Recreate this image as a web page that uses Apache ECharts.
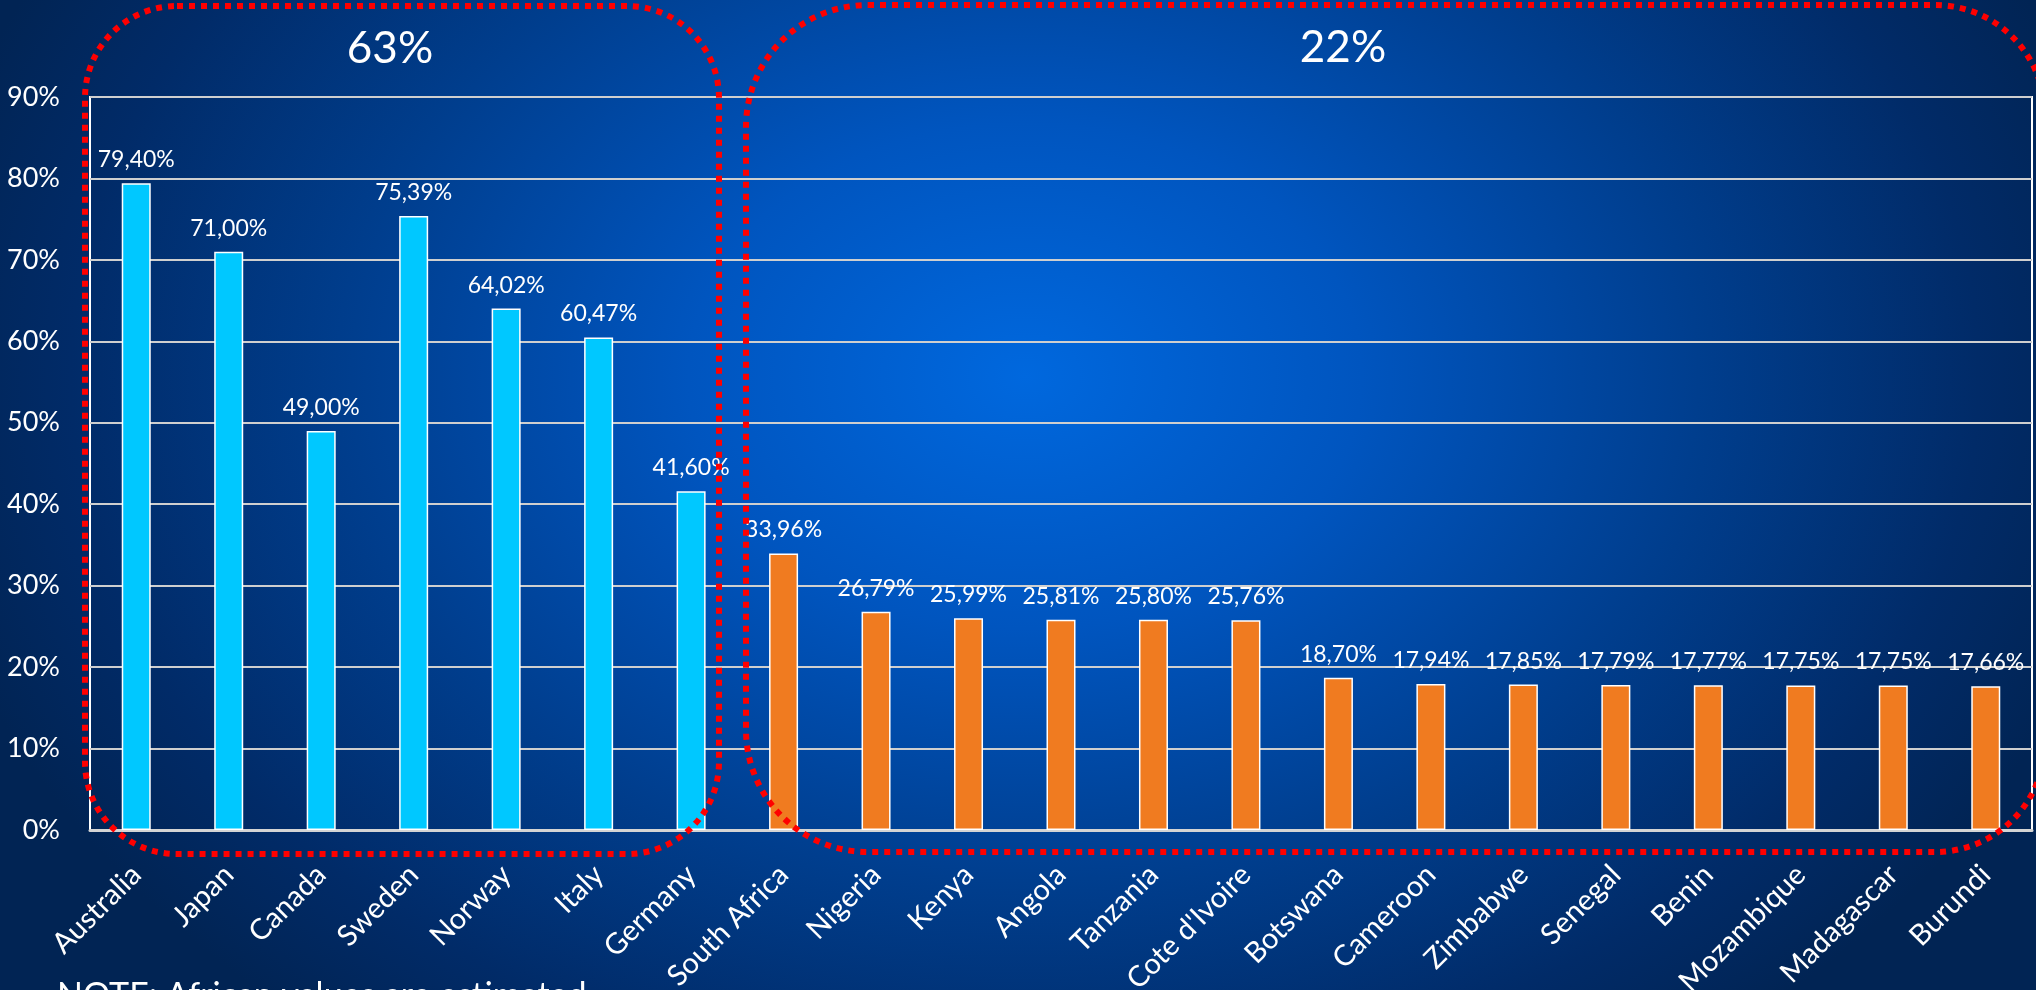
<!DOCTYPE html>
<html>
<head>
<meta charset="utf-8">
<style>
  html, body { margin: 0; padding: 0; background: #012454; }
  #chart { width: 2036px; height: 990px; }
</style>
<script src="https://cdn.jsdelivr.net/npm/echarts@6/dist/echarts.min.js"></script>
</head>
<body>
<div id="chart"></div>
<script>
// Percentage value per country
const countries = ['Australia', 'Japan', 'Canada', 'Sweden', 'Norway', 'Italy', 'Germany',
  'South Africa', 'Nigeria', 'Kenya', 'Angola', 'Tanzania', "Cote d'Ivoire", 'Botswana',
  'Cameroon', 'Zimbabwe', 'Senegal', 'Benin', 'Mozambique', 'Madagascar', 'Burundi'];
const values = [79.40, 71.00, 49.00, 75.39, 64.02, 60.47, 41.60,
  33.96, 26.79, 25.99, 25.81, 25.80, 25.76, 18.70,
  17.94, 17.85, 17.79, 17.77, 17.75, 17.75, 17.66];
// 0 = non-African group, 1 = African group
const groups = [0, 0, 0, 0, 0, 0, 0,
  1, 1, 1, 1, 1, 1, 1, 1, 1, 1, 1, 1, 1, 1];
const groupTotals = ['63%', '22%'];
const yTicks = { min: 0, max: 90, interval: 10 };
const noteText = 'NOTE: African values are estimated';

const FONT = 'Lato, "Open Sans", sans-serif';
const groupColors = ['#00C8FF', '#F07B20'];

const chart = echarts.init(document.getElementById('chart'), null, { renderer: 'canvas' });

const fmt = v => v.toFixed(2).replace('.', ',') + '%';

const BG_K = 0.75; // vertical squash of the radial background

const dotted = { fill: null, stroke: '#ff0000', lineWidth: 6, lineDash: [6, 6] };

const option = {
  animation: false,
  backgroundColor: 'transparent',
  grid: {
    left: 90, right: 4, top: 97, bottom: 160,
    show: true, borderColor: '#ffffff', borderWidth: 2,
    containLabel: false,
    outerBoundsMode: 'none'
  },
  xAxis: {
    type: 'category',
    data: countries,
    axisLine: { show: true, lineStyle: { color: '#d4d4d4', width: 3 } },
    axisTick: { show: false },
    axisLabel: {
      interval: 0, rotate: 45, margin: 40,
      color: '#ffffff', fontSize: 29, fontFamily: FONT
    }
  },
  yAxis: {
    type: 'value',
    min: yTicks.min, max: yTicks.max, interval: yTicks.interval,
    axisLine: { show: false },
    axisTick: { show: false },
    splitLine: { show: true, lineStyle: { color: '#cfcfcf', width: 2 } },
    axisLabel: {
      formatter: '{value}%', margin: 30,
      color: '#ffffff', fontSize: 27, fontFamily: FONT
    }
  },
  series: [{
    type: 'bar',
    barWidth: 29,
    data: values.map((v, i) => ({
      value: v,
      itemStyle: { color: groupColors[groups[i]] }
    })),
    itemStyle: { borderColor: '#ffffff', borderWidth: 1.5 },
    label: {
      show: true, position: 'top', distance: 12,
      color: '#ffffff', fontSize: 23, fontFamily: FONT,
      formatter: p => fmt(p.value)
    },
    z: 3
  }],
  graphic: [
    {
      // radial blue backdrop, squashed into an ellipse
      type: 'rect', z: -100, silent: true,
      x: 0, y: 0, scaleX: 1, scaleY: BG_K, originX: 0, originY: 0,
      shape: { x: 0, y: 0, width: 2036, height: 990 / BG_K },
      style: {
        fill: {
          type: 'radial', x: 1025 / 2036, y: 0.38, r: 0.85,
          colorStops: [
            { offset: 0, color: '#0068de' },
            { offset: 0.3, color: '#0055bf' },
            { offset: 0.6, color: '#003e8e' },
            { offset: 0.85, color: '#012b68' },
            { offset: 1, color: '#012454' }
          ]
        }
      }
    },
    {
      type: 'text', z: 50, silent: true,
      x: 390, y: 49,
      style: {
        text: groupTotals[0], fill: '#ffffff', font: '44px ' + FONT,
        align: 'center', verticalAlign: 'middle'
      }
    },
    {
      type: 'text', z: 50, silent: true,
      x: 1343, y: 48,
      style: {
        text: groupTotals[1], fill: '#ffffff', font: '44px ' + FONT,
        align: 'center', verticalAlign: 'middle'
      }
    },
    {
      type: 'rect', z: 60, silent: true,
      shape: { x: 85, y: 6, width: 719 - 85, height: 854 - 6, r: 92 },
      style: dotted
    },
    {
      type: 'rect', z: 60, silent: true,
      shape: { x: 746, y: 5, width: 2045 - 746, height: 852 - 5, r: [122, 110, 110, 122] },
      style: dotted
    },
    {
      type: 'text', z: 50, silent: true,
      x: 57, y: 996,
      style: {
        text: noteText, fill: '#ffffff', font: '34px ' + FONT,
        align: 'left', verticalAlign: 'middle'
      }
    }
  ]
};

chart.setOption(option);
</script>
</body>
</html>
